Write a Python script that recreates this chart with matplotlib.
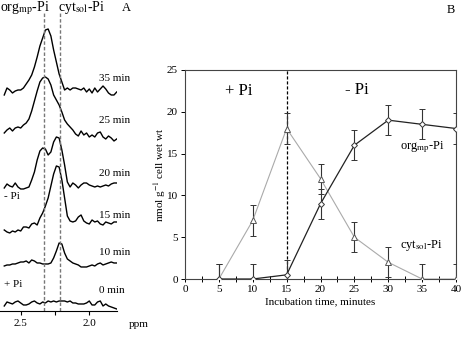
import numpy as np
import matplotlib
matplotlib.use("Agg")
import matplotlib.pyplot as plt

plt.rcParams['font.family'] = ['Liberation Serif', 'DejaVu Serif']
plt.rcParams['mathtext.fontset'] = 'stix'

# ---- panel A: 31P spectra (heights, arbitrary units)
ppm = np.round(np.arange(2.62, 1.795, -0.02), 2)

spec_0 = [-3, 1, 0, -1, 1, 2, 0, -2, -2, -1, 1, 2, 0, -1, 1, 0, 2, 1, 2, 1, 2,
          2, 2, 1, 2, 0, 0, -1, -1, -1, 0, 2, -2, -2, 1, 2, -3, -1, -3, -4, -5, -6]
spec_10 = [-1, 0, 0, 1, 1, 2, 3, 3, 4, 2, 5, 4, 2, 2, 1, 1, 1, 2, 7, 14, 22,
           21, 12, 6, 4, 2, 1, 0, -2, -2, -2, -1, 0, -1, 1, 2, 0, 1, 2, 3, 2, 2]
spec_15 = [-2, -4, -5, -3, -4, -2, -3, 1, 1, 0, 4, 5, 3, 10, 15, 22, 30, 42, 54, 62, 61,
           48, 30, 12, 7, 6, 7, 11, 13, 7, 5, 4, 8, 6, 7, 4, 3, 6, 5, 4, 6, 6]
spec_20 = [-2, 2, 0, -1, 3, -1, -3, -3, -2, -1, 6, 14, 26, 35, 38, 37, 31, 34, 44, 49, 48,
           36, 21, 4, -1, 3, 1, -2, 1, 3, 3, 1, 0, -1, 0, -1, 0, 1, 0, 2, 3, 3]
spec_25 = [0, 3, 5, 2, 5, 6, 5, 8, 10, 14, 22, 32, 42, 51, 55, 56, 54, 48, 38, 33, 28,
           21, 13, 9, 6, 3, -1, -3, 2, -2, 0, -4, -2, -4, 0, 1, -4, -6, -3, -5, -8, -6]
spec_35 = [-4, 3, 1, -2, 0, 1, 1, 3, 7, 11, 16, 24, 34, 45, 53, 61, 62, 55, 41, 29, 17,
           9, 1, 3, 1, 3, 3, 2, 1, 3, -1, 2, -2, 3, -1, 2, 5, 2, -2, -4, -4, -1]

spectra = [spec_0, spec_10, spec_15, spec_20, spec_25, spec_35]
spec_labels = ['0 min', '10 min', '15 min', '20 min', '25 min', '35 min']
offsets = [8, 46, 83, 125, 178, 220]
org_ppm, cyt_ppm = 2.33, 2.21

# ---- panel B: time course
time = [5, 10, 15, 20, 25, 30, 35, 40]
org_mp = [0, 0, 0.5, 9, 16, 19, 18.5, 18]
cyt_sol = [0, 7, 18, 12, 5, 2, 0, 0]
err = [1.8] * 8

fig = plt.figure(figsize=(4.62, 3.37), dpi=100)

axA = fig.add_axes([0.0, 0.0772, 117 / 462, 1 - 0.0772])
for s, lab, off in zip(spectra, spec_labels, offsets):
    axA.plot(ppm, np.array(s) + off, color='black', lw=1.0)
    axA.text(1.93, off + 12, lab, fontsize=8, ha='left', va='center', clip_on=False)
for p in (org_ppm, cyt_ppm):
    axA.plot([p, p], [0, 298], color='#777777', ls=(0, (2.5, 1.5)), lw=1.0)
axA.set_xlim(2.651, 1.798)
axA.set_ylim(0, 311)
for side in ('top', 'right', 'left'):
    axA.spines[side].set_visible(False)
axA.spines['bottom'].set_linewidth(0.8)
axA.set_yticks([])
axA.set_xticks([2.5, 2.25, 2.0])
axA.set_xticklabels(['2.5', '', '2.0'], fontsize=8)
axA.tick_params(axis='x', length=3, width=0.8, pad=3)
axA.text(1.71, -14, 'ppm', fontsize=8, ha='left', va='center', clip_on=False)
axA.text(2.65, 303, r'org$_{\mathrm{mp}}$-Pi', fontsize=10, ha='left', va='center')
axA.text(2.228, 303, r'cyt$_{\mathrm{sol}}$-Pi', fontsize=10, ha='left', va='center')
axA.text(1.76, 303, 'A', fontsize=9, ha='left', va='center', clip_on=False)
axA.text(2.62, 114, '- Pi', fontsize=8, ha='left', va='center')
axA.text(2.62, 26, '+ Pi', fontsize=8, ha='left', va='center')

axB = fig.add_axes([185 / 462, 0.1721, (456 - 185) / 462, 0.7923 - 0.1721])
axB.errorbar(time, cyt_sol, yerr=err, color='#aaaaaa', lw=0.8, marker='^', ms=4,
             mfc='white', mec='#555555', mew=0.7, ecolor='#333333', elinewidth=0.8,
             capsize=2, capthick=0.8, zorder=3)
axB.errorbar(time, org_mp, yerr=err, color='#222222', lw=0.9, marker='D', ms=3,
             mfc='white', mec='#333333', mew=0.7, ecolor='#333333', elinewidth=0.8,
             capsize=2, capthick=0.8, zorder=4)
axB.axvline(15, color='black', ls=(0, (2.5, 1.5)), lw=0.9)
axB.set_xlim(0, 40)
axB.set_ylim(0, 25)
axB.set_xticks(range(0, 41, 5))
axB.set_xticks(np.arange(0, 40.1, 2.5), minor=True)
axB.set_yticks(range(0, 26, 5))
axB.tick_params(axis='x', which='both', direction='inout', length=5, width=0.7,
                labelsize=8, pad=2)
axB.tick_params(axis='y', direction='out', length=3, width=0.7, labelsize=8, pad=2)
for sp in axB.spines.values():
    sp.set_linewidth(0.8)
    sp.set_color('#444444')
axB.set_xlabel('Incubation time, minutes', fontsize=8, labelpad=2)
axB.set_ylabel(r'nmol g$^{-1}$ cell wet wt', fontsize=8, labelpad=-1)
axB.text(5.9, 22.5, '+ Pi', fontsize=12, ha='left', va='center')
axB.text(23.6, 22.6, '- Pi', fontsize=12, ha='left', va='center')
axB.text(31.7, 15.8, r'org$_{\mathrm{mp}}$-Pi', fontsize=9, ha='left', va='center')
axB.text(31.7, 4.0, r'cyt$_{\mathrm{sol}}$-Pi', fontsize=9, ha='left', va='center')
fig.text(0.985, 0.97, 'B', fontsize=9, ha='right', va='center')

fig.savefig('out.png', dpi=100)
